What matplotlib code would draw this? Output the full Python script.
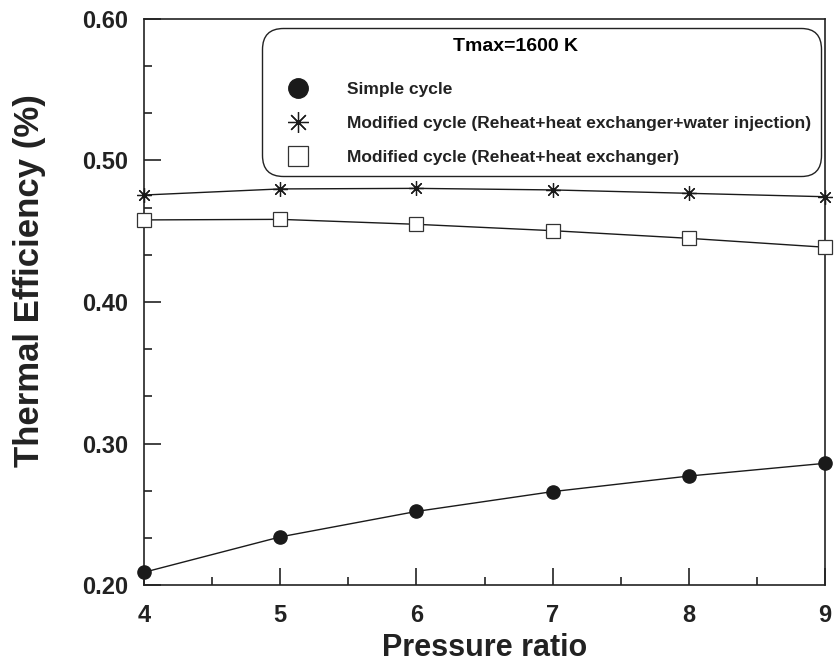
import matplotlib
matplotlib.use("Agg")
import matplotlib.pyplot as plt
from matplotlib.lines import Line2D
from matplotlib.ticker import MultipleLocator, FixedLocator

plt.rcParams['font.family'] = ['Liberation Sans', 'DejaVu Sans']
plt.rcParams['font.weight'] = 'bold'

pressure_ratio = [4, 5, 6, 7, 8, 9]
simple_cycle = [0.209, 0.234, 0.252, 0.266, 0.277, 0.286]
modified_water = [0.4756, 0.4799, 0.4803, 0.4792, 0.4768, 0.4744]
modified_hx = [0.458, 0.4584, 0.4549, 0.4504, 0.445, 0.4387]

legend_title = "Tmax=1600 K"
labels = ["Simple cycle",
          "Modified cycle (Reheat+heat exchanger+water injection)",
          "Modified cycle (Reheat+heat exchanger)"]

fig = plt.figure(figsize=(8.34, 6.66), dpi=100)
ax = fig.add_axes([0.1727, 0.1216, 0.9892 - 0.1727, 0.9715 - 0.1216])

lw = 1.0
ax.plot(pressure_ratio, simple_cycle, color='#1a1a1a', lw=lw, marker='o',
        markersize=9.5, markerfacecolor='#1a1a1a', markeredgecolor='#1a1a1a', clip_on=False, zorder=3)
ax.plot(pressure_ratio, modified_water, color='#1a1a1a', lw=lw, marker=(8, 2, 0),
        markersize=10.5, markeredgewidth=0.9, markeredgecolor='#1a1a1a', clip_on=False, zorder=3)
ax.plot(pressure_ratio, modified_hx, color='#1a1a1a', lw=lw, marker='s',
        markersize=10.3, markerfacecolor='white', markeredgewidth=0.9,
        markeredgecolor='#333333', clip_on=False, zorder=3)

ax.set_xlim(4, 9)
ax.set_ylim(0.20, 0.60)
ax.xaxis.set_major_locator(MultipleLocator(1))
ax.xaxis.set_minor_locator(MultipleLocator(0.5))
ax.yaxis.set_major_locator(FixedLocator([0.2, 0.3, 0.4, 0.5, 0.6]))
ax.yaxis.set_minor_locator(FixedLocator([0.2 + i * 0.1 / 3 for i in range(13)]))
ax.set_yticklabels(["0.20", "0.30", "0.40", "0.50", "0.60"])

ax.tick_params(axis='both', which='both', direction='in', top=False, right=False,
               width=1.2, color='#222222')
ax.tick_params(axis='both', which='major', length=12, labelsize=17)
ax.tick_params(axis='x', which='major', pad=14)
ax.tick_params(axis='y', which='major', pad=11.5)
ax.tick_params(axis='both', which='minor', length=6)
for t in ax.get_xticklabels() + ax.get_yticklabels():
    t.set_fontweight('bold')
    t.set_color('#222222')

for s in ax.spines.values():
    s.set_linewidth(1.2)
    s.set_color('#222222')

ax.set_xlabel("Pressure ratio", fontsize=22, fontweight='bold', color='#222222', labelpad=4)
ax.set_ylabel("Thermal Efficiency (%)", fontsize=25, fontweight='bold', color='#222222')
ax.yaxis.set_label_coords(-0.144, 0.537)

handles = [
    Line2D([], [], linestyle='none', marker='o', markersize=14, color='#1a1a1a'),
    Line2D([], [], linestyle='none', marker=(8, 2, 0), markersize=15, markeredgewidth=0.9, color='#1a1a1a'),
    Line2D([], [], linestyle='none', marker='s', markersize=15, markerfacecolor='white',
           markeredgewidth=0.9, markeredgecolor='#333333'),
]
leg = ax.legend(handles, labels, title=legend_title, loc='upper left',
                bbox_to_anchor=(0.173, 0.984), frameon=True, fancybox=True,
                edgecolor='#222222', framealpha=1, prop={'size': 12.5, 'weight': 'bold'},
                title_fontproperties={'size': 14, 'weight': 'bold'},
                labelspacing=1.1, handletextpad=1.3, borderpad=0.6, handlelength=3.0,
                borderaxespad=0)
leg.get_frame().set_linewidth(1.0)
leg.get_frame().set_boxstyle('round,pad=0,rounding_size=1.2')
leg._legend_box.align = "center"
leg._legend_box.sep = 19
leg.get_title().set_x(-26)
for t in leg.get_texts():
    t.set_color('#222222')

fig.savefig("out.png", dpi=100)
